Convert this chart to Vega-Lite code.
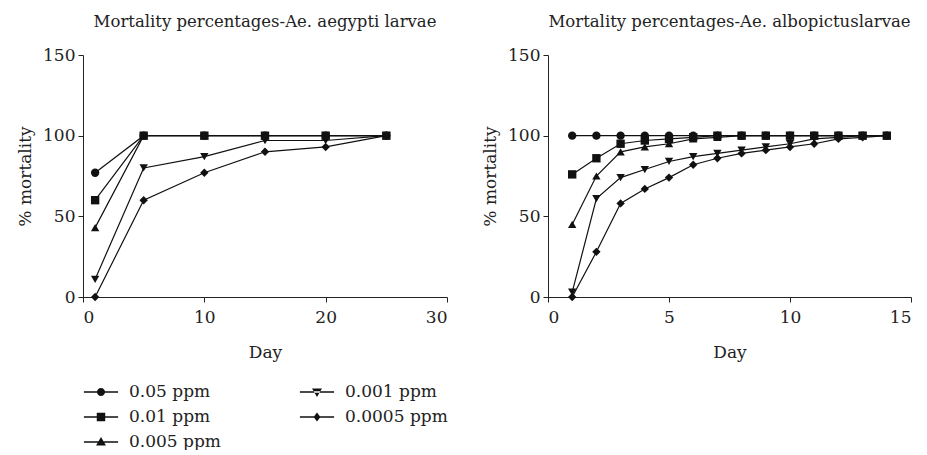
{
  "$schema": "https://vega.github.io/schema/vega-lite/v6.json",
  "background": "white",
  "padding": {"left": 16, "top": 13, "right": 0, "bottom": 0},
  "spacing": 33,
  "resolve": {"scale": {"shape": "independent"}, "legend": {"shape": "independent"}},
  "config": {
    "view": {"stroke": null},
    "font": "DejaVu Serif",
    "axis": {
      "labelFont": "DejaVu Serif", "labelFontSize": 17, "labelColor": "#222",
      "titleFont": "DejaVu Serif", "titleFontSize": 17, "titleFontWeight": "normal", "titleColor": "#222",
      "domainColor": "#222", "tickColor": "#222", "tickSize": 5, "grid": false, "labelPadding": 3
    },
    "title": {"font": "DejaVu Serif", "fontSize": 16.5, "fontWeight": "normal", "color": "#222", "offset": 16},
    "legend": {"labelFont": "DejaVu Serif", "labelFontSize": 17, "labelColor": "#222"}
  },
  "data": {"values": [
    {"panel":"A","conc":"0.05 ppm","day":1,"mortality":77},
    {"panel":"A","conc":"0.05 ppm","day":5,"mortality":100},
    {"panel":"A","conc":"0.05 ppm","day":10,"mortality":100},
    {"panel":"A","conc":"0.05 ppm","day":15,"mortality":100},
    {"panel":"A","conc":"0.05 ppm","day":20,"mortality":100},
    {"panel":"A","conc":"0.05 ppm","day":25,"mortality":100},
    {"panel":"A","conc":"0.005 ppm","day":1,"mortality":43},
    {"panel":"A","conc":"0.005 ppm","day":5,"mortality":100},
    {"panel":"A","conc":"0.005 ppm","day":10,"mortality":100},
    {"panel":"A","conc":"0.005 ppm","day":15,"mortality":100},
    {"panel":"A","conc":"0.005 ppm","day":20,"mortality":100},
    {"panel":"A","conc":"0.005 ppm","day":25,"mortality":100},
    {"panel":"A","conc":"0.001 ppm","day":1,"mortality":11},
    {"panel":"A","conc":"0.001 ppm","day":5,"mortality":80},
    {"panel":"A","conc":"0.001 ppm","day":10,"mortality":87},
    {"panel":"A","conc":"0.001 ppm","day":15,"mortality":97},
    {"panel":"A","conc":"0.001 ppm","day":20,"mortality":97},
    {"panel":"A","conc":"0.001 ppm","day":25,"mortality":100},
    {"panel":"A","conc":"0.0005 ppm","day":1,"mortality":0},
    {"panel":"A","conc":"0.0005 ppm","day":5,"mortality":60},
    {"panel":"A","conc":"0.0005 ppm","day":10,"mortality":77},
    {"panel":"A","conc":"0.0005 ppm","day":15,"mortality":90},
    {"panel":"A","conc":"0.0005 ppm","day":20,"mortality":93},
    {"panel":"A","conc":"0.0005 ppm","day":25,"mortality":100},
    {"panel":"A","conc":"0.01 ppm","day":1,"mortality":60},
    {"panel":"A","conc":"0.01 ppm","day":5,"mortality":100},
    {"panel":"A","conc":"0.01 ppm","day":10,"mortality":100},
    {"panel":"A","conc":"0.01 ppm","day":15,"mortality":100},
    {"panel":"A","conc":"0.01 ppm","day":20,"mortality":100},
    {"panel":"A","conc":"0.01 ppm","day":25,"mortality":100},

    {"panel":"B","conc":"0.05 ppm","day":1,"mortality":100},
    {"panel":"B","conc":"0.05 ppm","day":2,"mortality":100},
    {"panel":"B","conc":"0.05 ppm","day":3,"mortality":100},
    {"panel":"B","conc":"0.05 ppm","day":4,"mortality":100},
    {"panel":"B","conc":"0.05 ppm","day":5,"mortality":100},
    {"panel":"B","conc":"0.05 ppm","day":6,"mortality":100},
    {"panel":"B","conc":"0.05 ppm","day":7,"mortality":100},
    {"panel":"B","conc":"0.05 ppm","day":8,"mortality":100},
    {"panel":"B","conc":"0.05 ppm","day":9,"mortality":100},
    {"panel":"B","conc":"0.05 ppm","day":10,"mortality":100},
    {"panel":"B","conc":"0.05 ppm","day":11,"mortality":100},
    {"panel":"B","conc":"0.05 ppm","day":12,"mortality":100},
    {"panel":"B","conc":"0.05 ppm","day":13,"mortality":100},
    {"panel":"B","conc":"0.05 ppm","day":14,"mortality":100},
    {"panel":"B","conc":"0.005 ppm","day":1,"mortality":45},
    {"panel":"B","conc":"0.005 ppm","day":2,"mortality":75},
    {"panel":"B","conc":"0.005 ppm","day":3,"mortality":90},
    {"panel":"B","conc":"0.005 ppm","day":4,"mortality":93},
    {"panel":"B","conc":"0.005 ppm","day":5,"mortality":95},
    {"panel":"B","conc":"0.005 ppm","day":6,"mortality":98},
    {"panel":"B","conc":"0.005 ppm","day":7,"mortality":99},
    {"panel":"B","conc":"0.005 ppm","day":8,"mortality":100},
    {"panel":"B","conc":"0.005 ppm","day":9,"mortality":100},
    {"panel":"B","conc":"0.005 ppm","day":10,"mortality":100},
    {"panel":"B","conc":"0.005 ppm","day":11,"mortality":100},
    {"panel":"B","conc":"0.005 ppm","day":12,"mortality":100},
    {"panel":"B","conc":"0.005 ppm","day":13,"mortality":100},
    {"panel":"B","conc":"0.005 ppm","day":14,"mortality":100},
    {"panel":"B","conc":"0.001 ppm","day":1,"mortality":3},
    {"panel":"B","conc":"0.001 ppm","day":2,"mortality":61},
    {"panel":"B","conc":"0.001 ppm","day":3,"mortality":74},
    {"panel":"B","conc":"0.001 ppm","day":4,"mortality":79},
    {"panel":"B","conc":"0.001 ppm","day":5,"mortality":84},
    {"panel":"B","conc":"0.001 ppm","day":6,"mortality":87},
    {"panel":"B","conc":"0.001 ppm","day":7,"mortality":89},
    {"panel":"B","conc":"0.001 ppm","day":8,"mortality":91},
    {"panel":"B","conc":"0.001 ppm","day":9,"mortality":93},
    {"panel":"B","conc":"0.001 ppm","day":10,"mortality":95},
    {"panel":"B","conc":"0.001 ppm","day":11,"mortality":98},
    {"panel":"B","conc":"0.001 ppm","day":12,"mortality":99},
    {"panel":"B","conc":"0.001 ppm","day":13,"mortality":100},
    {"panel":"B","conc":"0.001 ppm","day":14,"mortality":100},
    {"panel":"B","conc":"0.0005 ppm","day":1,"mortality":0},
    {"panel":"B","conc":"0.0005 ppm","day":2,"mortality":28},
    {"panel":"B","conc":"0.0005 ppm","day":3,"mortality":58},
    {"panel":"B","conc":"0.0005 ppm","day":4,"mortality":67},
    {"panel":"B","conc":"0.0005 ppm","day":5,"mortality":74},
    {"panel":"B","conc":"0.0005 ppm","day":6,"mortality":82},
    {"panel":"B","conc":"0.0005 ppm","day":7,"mortality":86},
    {"panel":"B","conc":"0.0005 ppm","day":8,"mortality":89},
    {"panel":"B","conc":"0.0005 ppm","day":9,"mortality":91},
    {"panel":"B","conc":"0.0005 ppm","day":10,"mortality":93},
    {"panel":"B","conc":"0.0005 ppm","day":11,"mortality":95},
    {"panel":"B","conc":"0.0005 ppm","day":12,"mortality":98},
    {"panel":"B","conc":"0.0005 ppm","day":13,"mortality":99},
    {"panel":"B","conc":"0.0005 ppm","day":14,"mortality":100},
    {"panel":"B","conc":"0.01 ppm","day":1,"mortality":76},
    {"panel":"B","conc":"0.01 ppm","day":2,"mortality":86},
    {"panel":"B","conc":"0.01 ppm","day":3,"mortality":95},
    {"panel":"B","conc":"0.01 ppm","day":4,"mortality":97},
    {"panel":"B","conc":"0.01 ppm","day":5,"mortality":98},
    {"panel":"B","conc":"0.01 ppm","day":6,"mortality":99},
    {"panel":"B","conc":"0.01 ppm","day":7,"mortality":100},
    {"panel":"B","conc":"0.01 ppm","day":8,"mortality":100},
    {"panel":"B","conc":"0.01 ppm","day":9,"mortality":100},
    {"panel":"B","conc":"0.01 ppm","day":10,"mortality":100},
    {"panel":"B","conc":"0.01 ppm","day":11,"mortality":100},
    {"panel":"B","conc":"0.01 ppm","day":12,"mortality":100},
    {"panel":"B","conc":"0.01 ppm","day":13,"mortality":100},
    {"panel":"B","conc":"0.01 ppm","day":14,"mortality":100}
  ]},
  "hconcat": [
    {
      "title": "Mortality percentages-Ae. aegypti larvae",
      "width": 364, "height": 242,
      "transform": [{"filter": "datum.panel === 'A'"}],
      "resolve": {"scale": {"shape": "independent"}, "legend": {"shape": "independent"}},
      "layer": [
        {
          "mark": {"type": "line", "color": "#111", "strokeWidth": 1.2},
          "encoding": {
            "x": {"field": "day", "type": "quantitative", "title": "Day", "scale": {"domain": [0, 30], "nice": false}, "axis": {"values": [0, 10, 20, 30], "titlePadding": 19, "labelPadding": 7}},
            "y": {"field": "mortality", "type": "quantitative", "title": "% mortality", "scale": {"domain": [0, 150], "nice": false}, "axis": {"values": [0, 50, 100, 150], "titlePadding": 8}},
            "detail": {"field": "conc"}
          }
        },
        {
          "mark": {"type": "point", "filled": false, "fill": "#111", "stroke": "#111", "strokeWidth": 1.2, "size": 0},
          "encoding": {
            "x": {"field": "day", "type": "quantitative"},
            "y": {"field": "mortality", "type": "quantitative"},
            "shape": {
              "field": "conc", "type": "nominal",
              "scale": {"domain": ["0.05 ppm", "0.01 ppm", "0.005 ppm", "0.001 ppm", "0.0005 ppm"], "range": [
                "M-1.9,-0.07L1.9,-0.07L1.9,0.07L-1.9,0.07ZM0.45,0A0.45,0.45 0 1,1 -0.45,0A0.45,0.45 0 1,1 0.45,0Z",
                "M-1.9,-0.07L1.9,-0.07L1.9,0.07L-1.9,0.07ZM-0.47,-0.47L0.47,-0.47L0.47,0.47L-0.47,0.47Z",
                "M-1.9,-0.07L1.9,-0.07L1.9,0.07L-1.9,0.07ZM0,-0.55L0.55,0.4L-0.55,0.4Z",
                "M-1.9,-0.07L1.9,-0.07L1.9,0.07L-1.9,0.07ZM0,0.55L0.55,-0.4L-0.55,-0.4Z",
                "M-1.9,-0.07L1.9,-0.07L1.9,0.07L-1.9,0.07ZM0,-0.5L0.38,0L0,0.5L-0.38,0Z"
              ]},
              "legend": {
                "title": null, "orient": "none", "legendX": 8, "legendY": 327,
                "columns": 2, "columnPadding": 76, "rowPadding": 7,
                "symbolSize": 324, "symbolOpacity": 1, "symbolFillColor": "#111", "symbolStrokeColor": "#111", "symbolStrokeWidth": 1.2, "labelOffset": 18
              }
            }
          }
        },
        {
          "mark": {"type": "point", "filled": true, "color": "#111", "opacity": 1, "size": 70},
          "encoding": {
            "x": {"field": "day", "type": "quantitative"},
            "y": {"field": "mortality", "type": "quantitative"},
            "shape": {
              "field": "conc", "type": "nominal", "legend": null,
              "scale": {"domain": ["0.05 ppm", "0.01 ppm", "0.005 ppm", "0.001 ppm", "0.0005 ppm"], "range": ["circle", "square", "triangle-up", "triangle-down", "diamond"]}
            }
          }
        }
      ]
    },
    {
      "title": "Mortality percentages-Ae. albopictuslarvae",
      "width": 363, "height": 242,
      "transform": [{"filter": "datum.panel === 'B'"}],
      "layer": [
        {
          "mark": {"type": "line", "color": "#111", "strokeWidth": 1.2},
          "encoding": {
            "x": {"field": "day", "type": "quantitative", "title": "Day", "scale": {"domain": [0, 15], "nice": false}, "axis": {"values": [0, 5, 10, 15], "titlePadding": 19, "labelPadding": 7}},
            "y": {"field": "mortality", "type": "quantitative", "title": "% mortality", "scale": {"domain": [0, 150], "nice": false}, "axis": {"values": [0, 50, 100, 150], "titlePadding": 8}},
            "detail": {"field": "conc"}
          }
        },
        {
          "mark": {"type": "point", "filled": true, "color": "#111", "opacity": 1, "size": 70},
          "encoding": {
            "x": {"field": "day", "type": "quantitative"},
            "y": {"field": "mortality", "type": "quantitative"},
            "shape": {
              "field": "conc", "type": "nominal", "legend": null,
              "scale": {"domain": ["0.05 ppm", "0.01 ppm", "0.005 ppm", "0.001 ppm", "0.0005 ppm"], "range": ["circle", "square", "triangle-up", "triangle-down", "diamond"]}
            }
          }
        }
      ]
    }
  ]
}
